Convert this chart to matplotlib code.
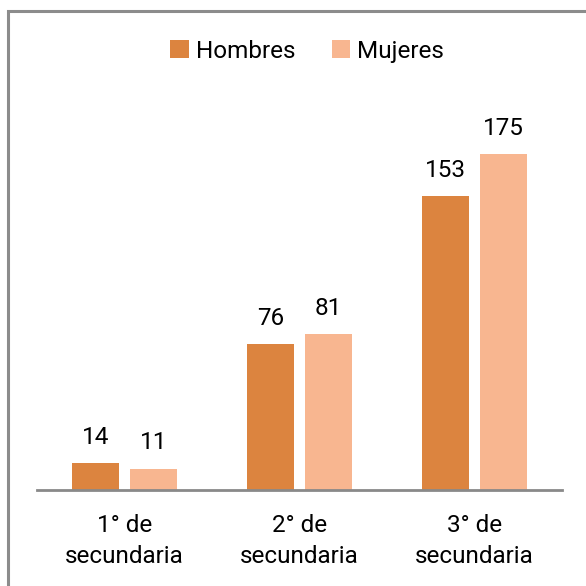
import numpy as np
import matplotlib.pyplot as plt
from matplotlib.patches import Rectangle

categorias = ['1° de\nsecundaria', '2° de\nsecundaria', '3° de\nsecundaria']
hombres = [14, 76, 153]
mujeres = [11, 81, 175]

plt.rcParams['font.family'] = ['Roboto', 'DejaVu Sans']

c_h = '#DC843F'
c_m = '#F8B690'

fig = plt.figure(figsize=(5.86, 5.86), dpi=100)
ax = fig.add_axes([37/586, 1-490/586, 525/586, 384/586])

x = np.arange(len(categorias))
w = 0.27
off = 0.166
b1 = ax.bar(x - off, hombres, w, color=c_h, label='Hombres')
b2 = ax.bar(x + off, mujeres, w, color=c_m, label='Mujeres')
for bars, vals in ((b1, hombres), (b2, mujeres)):
    for b, v in zip(bars, vals):
        ax.text(b.get_x() + b.get_width()/2, v + 7.5, str(v), ha='center', va='bottom', fontsize=17.5)

ax.set_xlim(-0.5, 2.5)
ax.set_ylim(0, 200)
ax.set_yticks([])
ax.set_xticks(x)
ax.set_xticklabels(categorias, fontsize=17.5, linespacing=1.45)
ax.tick_params(axis='x', length=0, pad=17)
for s in ['top', 'right', 'left']:
    ax.spines[s].set_visible(False)
ax.spines['bottom'].set_color('#898989')
ax.spines['bottom'].set_linewidth(2)

ax.legend(loc='upper center', bbox_to_anchor=(0.515, 1.23), ncol=2, frameon=False,
          fontsize=17.5, handlelength=0.75, handleheight=0.75, handletextpad=0.3,
          columnspacing=1.5)

fig.patches.append(Rectangle((8/586, -0.1), 1.2, 1.1 - 11/586, transform=fig.transFigure,
                             fill=False, edgecolor='#8c8c8c', linewidth=2.2))

fig.savefig('out.png', dpi=100)
